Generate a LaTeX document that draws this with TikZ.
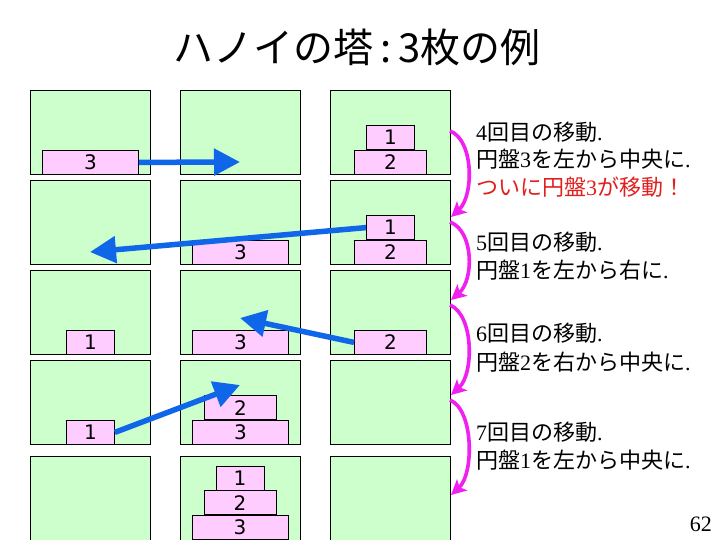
\documentclass[tikz,border=0pt]{standalone}
\usepackage{fontspec}
\setmainfont{Liberation Serif}
\newfontfamily\jpfont{Noto Sans CJK JP}
\newfontfamily\dsans{DejaVu Sans}
\usetikzlibrary{arrows.meta}
\definecolor{boxgreen}{HTML}{CCFFCC}
\definecolor{diskpink}{HTML}{FFCCFF}
\definecolor{movblue}{HTML}{1066E8}
\definecolor{arcmag}{HTML}{F020F0}
\definecolor{txtred}{HTML}{E0201E}
\newcommand\nrm[1]{{\rmfamily #1}}
\tikzset{
  tower/.style={draw=black, line width=0.8pt, fill=boxgreen, minimum width=120pt, minimum height=84pt, inner sep=0pt, anchor=north west},
  tallTower/.style={tower, minimum height=96pt},
  disk/.style={draw=black, line width=0.8pt, fill=diskpink, minimum height=24pt, inner sep=0pt, anchor=south, font=\dsans\fontsize{20}{20}\selectfont},
  dA/.style={disk, minimum width=48pt},
  dB/.style={disk, minimum width=72pt},
  dC/.style={disk, minimum width=96pt},
  mv/.style={line width=5.5pt, color=movblue, -{Triangle[length=26pt,width=26pt]}},
  mag/.style={line width=3.6pt, color=arcmag, -{Stealth[length=15pt,width=15pt,inset=3.5pt]}},
  txt/.style={anchor=base west, inner sep=0pt, font=\jpfont\fontsize{22}{22}\selectfont},
}
\begin{document}
\begin{tikzpicture}[x=1pt,y=-1pt]
\fill[white] (0,0) rectangle (720,540);
\useasboundingbox (0,0) rectangle (720,540);
\clip (0,0) rectangle (720,540);
% title
\node[font=\jpfont\fontsize{40}{40}\selectfont, anchor=base, inner sep=0pt] (title) at (357,63) {ハノイの塔\,:\,3枚の例};
% row 1
\node[tower] (t11) at (30,90) {};
\node[tower] (t12) at (180,90) {};
\node[tower] (t13) at (330,90) {};
\node[dC] (r1a3) at (t11.south) {3};
\node[dB] (r1c2) at (t13.south) {2};
\node[dA] (r1c1) at (r1c2.north) {1};
% row 2
\node[tower] (t21) at (30,180) {};
\node[tower] (t22) at (180,180) {};
\node[tower] (t23) at (330,180) {};
\node[dC] (r2b3) at (t22.south) {3};
\node[dB] (r2c2) at (t23.south) {2};
\node[dA] (r2c1) at (r2c2.north) {1};
% row 3
\node[tower] (t31) at (30,270) {};
\node[tower] (t32) at (180,270) {};
\node[tower] (t33) at (330,270) {};
\node[dA] (r3a1) at (t31.south) {1};
\node[dC] (r3b3) at (t32.south) {3};
\node[dB] (r3c2) at (t33.south) {2};
% row 4
\node[tower] (t41) at (30,360) {};
\node[tower] (t42) at (180,360) {};
\node[tower] (t43) at (330,360) {};
\node[dA] (r4a1) at (t41.south) {1};
\node[dC] (r4b3) at (t42.south) {3};
\node[dB] (r4b2) at (r4b3.north) {2};
% row 5
\node[tallTower] (t51) at (30,456) {};
\node[tallTower] (t52) at (180,456) {};
\node[tallTower] (t53) at (330,456) {};
\node[dC] (r5b3) at (240,540) {3};
\node[dB] (r5b2) at (r5b3.north) {2};
\node[dA] (r5b1) at (r5b2.north) {1};
% blue move arrows
\coordinate (e1) at (240,162);
\coordinate (e2) at (90,252);
\coordinate (e3) at (240,318);
\coordinate (e4) at (240,385);
\draw[mv] (r1a3.east) -- (e1);
\draw[mv] (r2c1.west) -- (e2);
\draw[mv] (r3c2.west) -- (e3);
\draw[mv] (r4a1.east) -- (e4);
% magenta step arcs
\coordinate (m0) at (450,131);
\coordinate (m1) at (451,217);
\coordinate (m2) at (450,222);
\coordinate (m3) at (451,300);
\coordinate (m4) at (450,305);
\coordinate (m5) at (451,395);
\coordinate (m6) at (450,400);
\coordinate (m7) at (451,495);
\draw[mag] (m0) .. controls (474,140) and (474,196) .. (m1);
\draw[mag] (m2) .. controls (474,231) and (474,280) .. (m3);
\draw[mag] (m4) .. controls (474,315) and (474,374) .. (m5);
\draw[mag] (m6) .. controls (474,410) and (474,474) .. (m7);
% texts
\node[txt] (s4a) at (476,141) {\nrm{4}回目の移動\nrm{.}};
\node[txt] (s4b) at (476,168) {円盤\nrm{3}を左から中央に\nrm{.}};
\node[txt, text=txtred] (s4c) at (476,196) {ついに円盤\nrm{3}が移動！};
\node[txt] (s5a) at (476,250) {\nrm{5}回目の移動\nrm{.}};
\node[txt] (s5b) at (476,278) {円盤\nrm{1}を左から右に\nrm{.}};
\node[txt] (s6a) at (476,341) {\nrm{6}回目の移動\nrm{.}};
\node[txt] (s6b) at (476,370) {円盤\nrm{2}を右から中央に\nrm{.}};
\node[txt] (s7a) at (476,440) {\nrm{7}回目の移動\nrm{.}};
\node[txt] (s7b) at (476,468) {円盤\nrm{1}を左から中央に\nrm{.}};
\node[anchor=base east, inner sep=0pt, font=\rmfamily\fontsize{22}{22}\selectfont] (pg) at (712,531) {62};
\end{tikzpicture}
\end{document}
